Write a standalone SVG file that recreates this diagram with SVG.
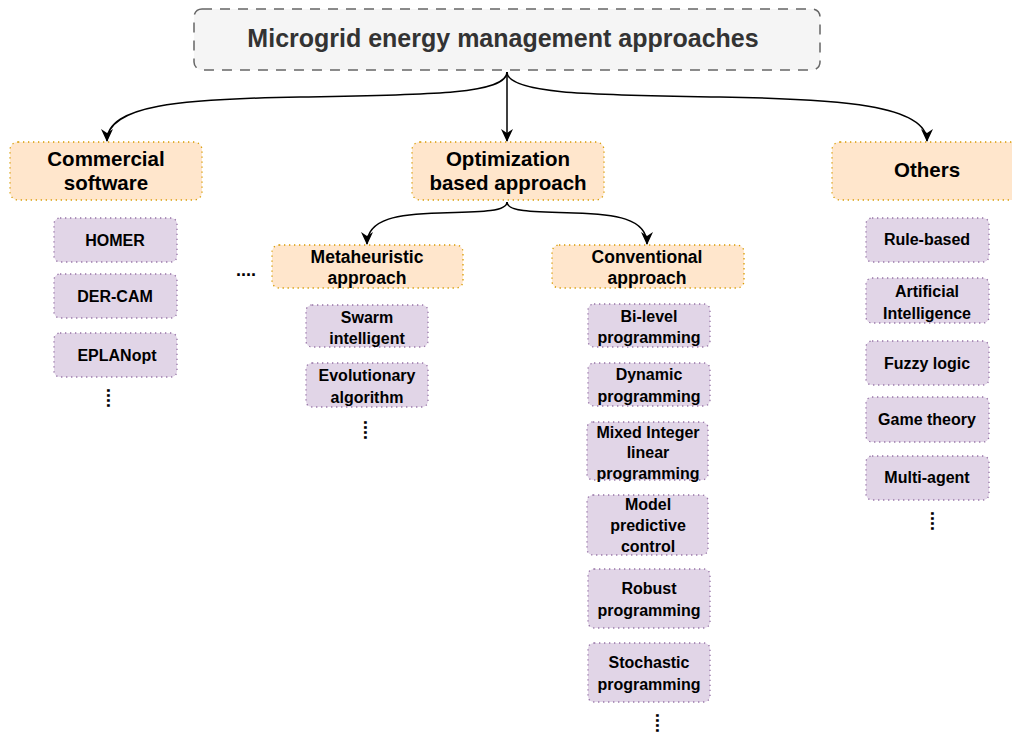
<svg xmlns="http://www.w3.org/2000/svg" width="1012" height="736" viewBox="0 0 1012 736">
<style>
  .title{fill:#f5f5f5;stroke:#666666;stroke-width:1.5;stroke-dasharray:10 8}
  .hdr{fill:#ffe6cc;stroke:#d79b00;stroke-width:1.3;stroke-dasharray:1.3 3.7}
  .item{fill:#e1d5e7;stroke:#9673a6;stroke-width:1.3;stroke-dasharray:1.3 3.7}
  text{font-family:"Liberation Sans",Arial,Helvetica,sans-serif;font-weight:bold;text-anchor:middle;fill:#000}
  .tt{font-size:25px;fill:#333333}
  .h{font-size:20.5px}
  .s{font-size:17.5px}
  .i{font-size:16px}
  .d{font-size:18px}
  .edge{fill:none;stroke:#000;stroke-width:1.5}
</style>
<defs>
  <marker id="arr" viewBox="0 0 13 12" refX="12" refY="6" markerWidth="13" markerHeight="12" orient="auto" markerUnits="userSpaceOnUse">
    <path d="M0,0 L13,6 L0,12 L4,6 Z" fill="#000"/>
  </marker>
</defs>

<g id="connectors">
  <path class="edge" d="M507,72 C507,95 420,95 300,97 S107,105 107,141" marker-end="url(#arr)"/>
  <path class="edge" d="M507,72 L507,141" marker-end="url(#arr)"/>
  <path class="edge" d="M507,72 C507,95 600,95 720,97 S927,105 927,141" marker-end="url(#arr)"/>
  <path class="edge" d="M507,202 C507,212 480,212 440,213 S367,218 367,244" marker-end="url(#arr)"/>
  <path class="edge" d="M507,202 C507,212 534,212 574,213 S647,218 647,244" marker-end="url(#arr)"/>
</g>

<g id="n-title">
  <rect class="title" x="194" y="9" width="626" height="61" rx="8"/>
  <text class="tt" x="503" y="47">Microgrid energy management approaches</text>
</g>

<g id="n-commercial">
  <rect class="hdr" x="10" y="142" width="192" height="58" rx="8"/>
  <text class="h" x="106" y="166">Commercial</text>
  <text class="h" x="106" y="190">software</text>
</g>
<g id="n-optimization">
  <rect class="hdr" x="412" y="142" width="192" height="58" rx="8"/>
  <text class="h" x="508" y="166">Optimization</text>
  <text class="h" x="508" y="190">based approach</text>
</g>
<g id="n-others">
  <rect class="hdr" x="832" y="142" width="192" height="58" rx="8"/>
  <text class="h" x="927" y="177">Others</text>
</g>

<g id="n-homer">
  <rect class="item" x="54" y="218" width="123" height="44" rx="6"/>
  <text class="i" x="115" y="246">HOMER</text>
</g>
<g id="n-dercam">
  <rect class="item" x="54" y="274" width="123" height="44" rx="6"/>
  <text class="i" x="115" y="302">DER-CAM</text>
</g>
<g id="n-eplanopt">
  <rect class="item" x="54" y="333" width="123" height="44" rx="6"/>
  <text class="i" x="117" y="361">EPLANopt</text>
</g>
<g id="dots-commercial">
  <text class="d" transform="translate(106.5,398) rotate(90)" x="0" y="0">....</text>
</g>

<g id="dots-left">
  <text class="d" x="246" y="276">....</text>
</g>

<g id="n-metaheuristic">
  <rect class="hdr" x="272" y="245" width="191" height="43" rx="7"/>
  <text class="s" x="367" y="263">Metaheuristic</text>
  <text class="s" x="367" y="284">approach</text>
</g>
<g id="n-conventional">
  <rect class="hdr" x="552" y="245" width="192" height="43" rx="7"/>
  <text class="s" x="647" y="263">Conventional</text>
  <text class="s" x="647" y="284">approach</text>
</g>

<g id="n-swarm">
  <rect class="item" x="306" y="305" width="122" height="42" rx="6"/>
  <text class="i" x="367" y="323">Swarm</text>
  <text class="i" x="367" y="344">intelligent</text>
</g>
<g id="n-evolutionary">
  <rect class="item" x="306" y="363" width="122" height="44" rx="6"/>
  <text class="i" x="367" y="381">Evolutionary</text>
  <text class="i" x="367" y="403">algorithm</text>
</g>
<g id="dots-meta">
  <text class="d" transform="translate(363.5,430) rotate(90)" x="0" y="0">....</text>
</g>

<g id="n-bilevel">
  <rect class="item" x="588" y="304" width="122" height="43" rx="6"/>
  <text class="i" x="649" y="322">Bi-level</text>
  <text class="i" x="649" y="343">programming</text>
</g>
<g id="n-dynamic">
  <rect class="item" x="588" y="363" width="122" height="43" rx="6"/>
  <text class="i" x="649" y="380">Dynamic</text>
  <text class="i" x="649" y="402">programming</text>
</g>
<g id="n-milp">
  <rect class="item" x="587" y="422" width="121" height="58" rx="6"/>
  <text class="i" x="648" y="438">Mixed Integer</text>
  <text class="i" x="648" y="458">linear</text>
  <text class="i" x="648" y="479">programming</text>
</g>
<g id="n-mpc">
  <rect class="item" x="587" y="495" width="121" height="60" rx="6"/>
  <text class="i" x="648" y="510">Model</text>
  <text class="i" x="648" y="531">predictive</text>
  <text class="i" x="648" y="552">control</text>
</g>
<g id="n-robust">
  <rect class="item" x="588" y="569" width="122" height="59" rx="6"/>
  <text class="i" x="649" y="594">Robust</text>
  <text class="i" x="649" y="616">programming</text>
</g>
<g id="n-stochastic">
  <rect class="item" x="588" y="643" width="122" height="59" rx="6"/>
  <text class="i" x="649" y="668">Stochastic</text>
  <text class="i" x="649" y="690">programming</text>
</g>
<g id="dots-conv">
  <text class="d" transform="translate(655.5,723) rotate(90)" x="0" y="0">....</text>
</g>

<g id="n-rule">
  <rect class="item" x="866" y="218" width="123" height="44" rx="6"/>
  <text class="i" x="927" y="245">Rule-based</text>
</g>
<g id="n-ai">
  <rect class="item" x="866" y="278" width="123" height="45" rx="6"/>
  <text class="i" x="927" y="297">Artificial</text>
  <text class="i" x="927" y="319">Intelligence</text>
</g>
<g id="n-fuzzy">
  <rect class="item" x="866" y="341" width="123" height="44" rx="6"/>
  <text class="i" x="927" y="369">Fuzzy logic</text>
</g>
<g id="n-game">
  <rect class="item" x="866" y="397" width="123" height="45" rx="6"/>
  <text class="i" x="927" y="425">Game theory</text>
</g>
<g id="n-multiagent">
  <rect class="item" x="866" y="456" width="123" height="44" rx="6"/>
  <text class="i" x="927" y="483">Multi-agent</text>
</g>
<g id="dots-others">
  <text class="d" transform="translate(930.5,521) rotate(90)" x="0" y="0">....</text>
</g>
</svg>
